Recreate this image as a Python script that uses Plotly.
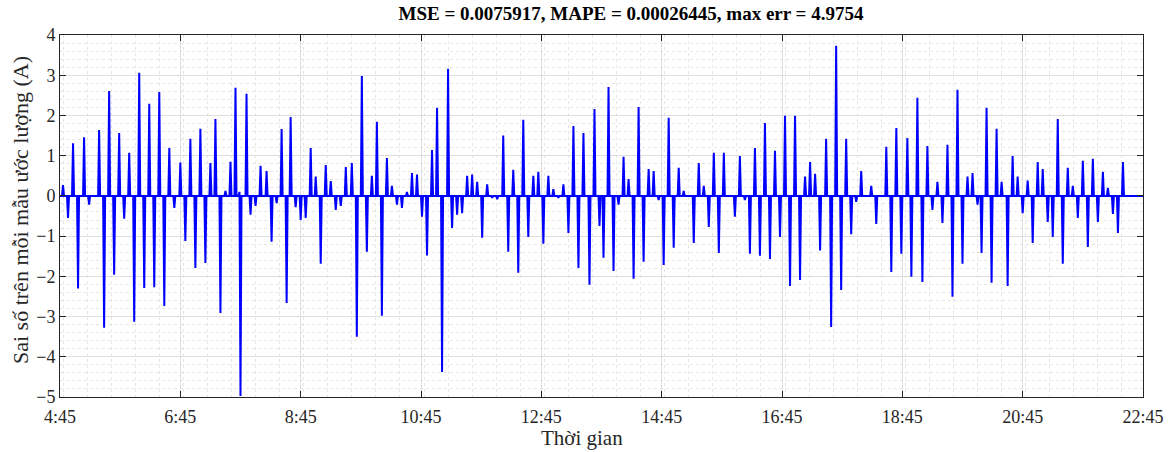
import pandas as pd
import plotly.graph_objects as go

# ---- data ----
day = "2024-01-01"
start_time = "04:45"
end_time = "22:45"

spike_times = [
    "04:48", "04:53", "04:58", "05:03", "05:09", "05:14", "05:24", "05:29", "05:34", "05:39",
    "05:44", "05:49", "05:54", "05:59", "06:04", "06:09", "06:14", "06:19", "06:24", "06:29",
    "06:34", "06:39", "06:45", "06:50", "06:55", "07:00", "07:05", "07:10", "07:15", "07:20",
    "07:25", "07:30", "07:35", "07:40", "07:44", "07:45", "07:51", "07:55", "08:00", "08:05",
    "08:11", "08:16", "08:21", "08:26", "08:31", "08:35", "08:40", "08:45", "08:50", "08:55",
    "09:00", "09:05", "09:10", "09:15", "09:20", "09:25", "09:30", "09:36", "09:41", "09:46",
    "09:51", "09:56", "10:01", "10:06", "10:11", "10:16", "10:21", "10:26", "10:31", "10:36",
    "10:41", "10:46", "10:51", "10:56", "11:01", "11:06", "11:12", "11:16", "11:21", "11:26",
    "11:31", "11:36", "11:41", "11:46", "11:51", "11:56", "12:01", "12:07", "12:12", "12:17",
    "12:22", "12:27", "12:32", "12:37", "12:42", "12:47", "12:52", "12:57", "13:02", "13:07",
    "13:12", "13:17", "13:22", "13:27", "13:33", "13:38", "13:43", "13:47", "13:52", "13:57",
    "14:02", "14:07", "14:12", "14:17", "14:22", "14:27", "14:32", "14:37", "14:42", "14:47",
    "14:52", "14:57", "15:02", "15:07", "15:17", "15:22", "15:27", "15:32", "15:37", "15:42",
    "15:47", "15:58", "16:03", "16:08", "16:13", "16:18", "16:23", "16:28", "16:33", "16:38",
    "16:43", "16:48", "16:53", "16:58", "17:03", "17:08", "17:13", "17:18", "17:23", "17:29",
    "17:34", "17:39", "17:44", "17:49", "17:54", "17:59", "18:04", "18:14", "18:19", "18:29",
    "18:34", "18:39", "18:44", "18:50", "18:54", "19:00", "19:05", "19:10", "19:15", "19:20",
    "19:25", "19:30", "19:35", "19:40", "19:45", "19:50", "19:55", "20:00", "20:04", "20:09",
    "20:14", "20:19", "20:24", "20:30", "20:35", "20:40", "20:45", "20:50", "20:55", "21:00",
    "21:05", "21:10", "21:15", "21:20", "21:25", "21:30", "21:35", "21:40", "21:45", "21:50",
    "21:55", "22:00", "22:05", "22:10", "22:15", "22:20", "22:25",
]
spike_errors = [
    0.27, -0.55, 1.31, -2.30, 1.46, -0.22, 1.64, -3.28, 2.61, -1.96,
    1.56, -0.57, 1.07, -3.13, 3.06, -2.29, 2.29, -2.27, 2.58, -2.74,
    1.19, -0.30, 0.83, -1.12, 1.42, -1.79, 1.67, -1.67, 0.82, 1.91,
    -2.91, 0.12, 0.85, 2.69, 0.10, -4.9754, 2.54, -0.47, -0.25, 0.75,
    0.62, -1.14, -0.18, 1.66, -2.66, 1.96, -0.28, -0.60, -0.55, 1.19,
    0.48, -1.69, 0.77, 0.37, -0.35, -0.25, 0.72, 0.82, -3.50, 2.98,
    -1.39, 0.50, 1.84, -2.98, 0.94, 0.25, -0.22, -0.30, 0.10, 0.57,
    0.53, -0.52, -1.48, 1.14, 2.19, -4.38, 3.16, -0.80, -0.47, -0.43,
    0.50, 0.53, 0.35, -1.04, 0.29, -0.05, -0.08, 1.50, -1.39, 0.65,
    -1.91, 1.89, -1.02, 0.50, 0.60, -1.19, 0.50, 0.17, -0.05, 0.29,
    -0.92, 1.74, -1.79, 1.56, -2.21, 2.16, -0.75, -1.54, 2.71, -1.87,
    -0.22, 0.97, 0.42, -2.06, 2.21, -1.64, 0.67, 0.62, -0.10, -1.72,
    1.94, -1.29, 0.70, 0.12, -1.17, 0.82, 0.25, -0.77, 1.07, -1.42,
    1.07, -0.52, 0.99, -0.10, -1.44, 1.19, -1.49, 1.81, -1.57, 1.12,
    -1.02, 1.99, -2.24, 1.99, -2.09, 0.48, 0.84, 0.55, -1.36, 1.42,
    -3.26, 3.73, -2.34, 1.42, -0.95, -0.15, 0.62, 0.25, -0.70, 1.22,
    -1.89, 1.69, -1.44, 1.44, -2.01, 2.44, -2.14, 1.24, -0.35, 0.35,
    -0.67, 1.27, -2.51, 2.64, -1.69, 0.48, 0.57, -0.22, -1.42, 2.19,
    -2.16, 1.67, 0.35, -2.24, 0.99, 0.48, -0.43, 0.38, -1.17, 0.84,
    0.67, -0.65, -1.02, 1.91, -1.69, 0.70, 0.25, -0.55, 0.87, -1.27,
    0.92, -0.65, 0.60, 0.20, -0.45, -0.92, 0.84,
]
tick_times = ["04:45", "06:45", "08:45", "10:45", "12:45", "14:45",
              "16:45", "18:45", "20:45", "22:45"]
tick_labels = ["4:45", "6:45", "8:45", "10:45", "12:45", "14:45",
               "16:45", "18:45", "20:45", "22:45"]
y_ticks = [-5, -4, -3, -2, -1, 0, 1, 2, 3, 4]

title_text = "MSE = 0.0075917, MAPE = 0.00026445, max err = 4.9754"
x_title = "Thời gian"
y_title = "Sai số trên mỗi mẫu ước lượng (A)"

# ---- build the sampled error series (1-minute samples, zero between spikes) ----
t = pd.date_range(f"{day} {start_time}", f"{day} {end_time}", freq="1min")
err = pd.Series(0.0, index=t)
for ts, v in zip(spike_times, spike_errors):
    err[pd.Timestamp(f"{day} {ts}")] = v

FONT = "Liberation Serif, Times New Roman, serif"
INK = "#262626"
W, H = 1173, 452

fig = go.Figure()
fig.add_trace(go.Scatter(
    x=err.index, y=err.values, mode="lines",
    line=dict(color="#0000ff", width=2), showlegend=False,
    hoverinfo="x+y",
))

fig.update_layout(
    width=W, height=H,
    margin=dict(l=60, r=30, t=35, b=55),
    paper_bgcolor="white", plot_bgcolor="white",
    font=dict(family=FONT, size=18, color=INK),
    title=dict(text=f"<b>{title_text}</b>", x=631 / W, xanchor="center",
               y=1 - 13 / H, yanchor="middle",
               font=dict(family=FONT, size=19, color="black")),
)

# axis titles placed as in the reference
fig.add_annotation(text=x_title, xref="paper", yref="paper",
                   x=(582 - 60) / (W - 90), y=-(438 - 397) / (H - 90),
                   xanchor="center", yanchor="middle", showarrow=False,
                   font=dict(family=FONT, size=21, color=INK))
fig.add_annotation(text=y_title, xref="paper", yref="paper",
                   x=-(60 - 20) / (W - 90), y=(397 - 210) / (H - 90),
                   xanchor="center", yanchor="middle", showarrow=False,
                   textangle=-90,
                   font=dict(family=FONT, size=22, color=INK))

fig.update_xaxes(
    range=[pd.Timestamp(f"{day} {start_time}"), pd.Timestamp(f"{day} {end_time}")],
    tickvals=[pd.Timestamp(f"{day} {s}") for s in tick_times],
    ticktext=tick_labels,
    ticks="inside", ticklen=6, tickcolor=INK,
    showline=True, linecolor=INK, linewidth=1, mirror="ticks",
    showgrid=True, gridcolor="#dedede", gridwidth=1,
    minor=dict(dtick=24 * 60 * 1000, showgrid=True, gridcolor="#e6e6e6",
               griddash="dot", ticks=""),
    zeroline=False, automargin=False, ticklabelstandoff=3,
    tickfont=dict(family=FONT, size=18, color=INK),
)
fig.update_yaxes(
    range=[-5, 4], tickvals=y_ticks,
    ticks="inside", ticklen=6, tickcolor=INK,
    showline=True, linecolor=INK, linewidth=1, mirror="ticks",
    showgrid=True, gridcolor="#dedede", gridwidth=1,
    minor=dict(dtick=0.2, showgrid=True, gridcolor="#e6e6e6", griddash="dot", ticks=""),
    zeroline=False, automargin=False,
    tickfont=dict(family=FONT, size=18, color=INK),
)

fig.write_html("out.html")
